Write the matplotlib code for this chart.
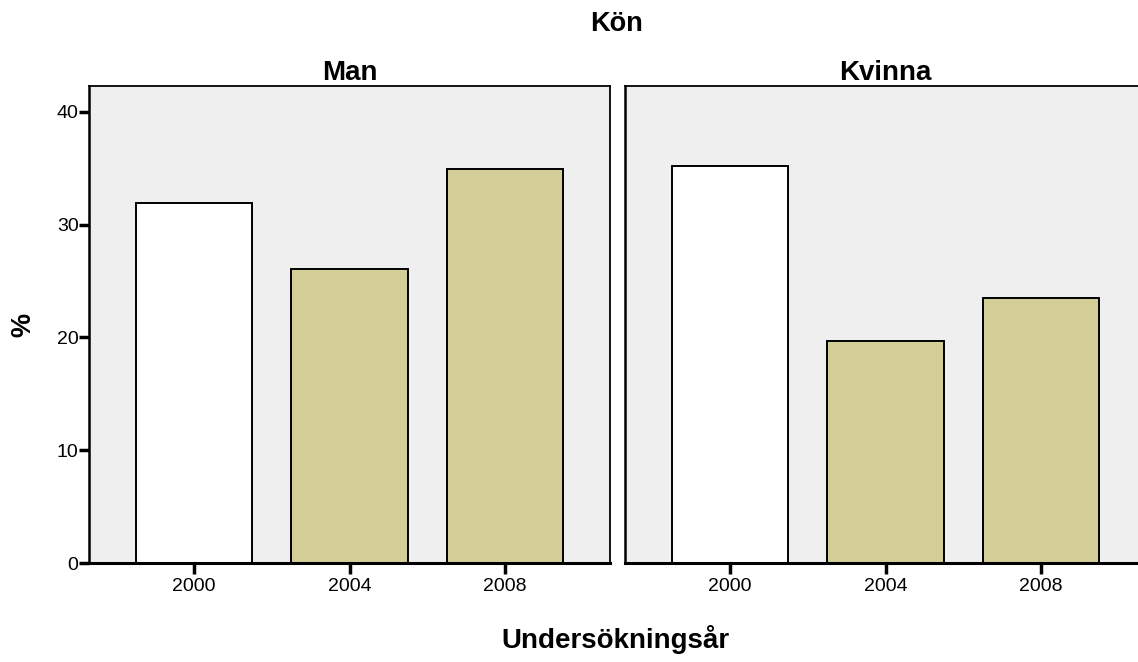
import numpy as np
import matplotlib.pyplot as plt

plt.rcParams['font.family'] = ['Liberation Sans', 'DejaVu Sans']

years = ['2000', '2004', '2008']
groups = ['Man', 'Kvinna']
man_pct = [31.9, 26.1, 34.9]
kvinna_pct = [35.2, 19.7, 23.5]
bar_colors = ['#FFFFFF', '#D3CE98', '#D3CE98']

W, H = 1138, 662
fig = plt.figure(figsize=(W / 100, H / 100), dpi=100)

ax_w = (610 - 89) / W
ax_b = 1 - 563 / H
ax_h = (563 - 86) / H
ax1 = fig.add_axes([89 / W, ax_b, ax_w, ax_h])
ax2 = fig.add_axes([625 / W, ax_b, ax_w, ax_h])

x = np.arange(len(years))
for ax, vals, name in [(ax1, man_pct, groups[0]), (ax2, kvinna_pct, groups[1])]:
    ax.set_facecolor('#EFEFEF')
    ax.bar(x, vals, width=0.75, color=bar_colors, edgecolor='black', linewidth=1.4, zorder=2)
    ax.set_xlim(-0.675, 2.675)
    ax.set_ylim(0, 42.3)
    ax.set_xticks(x)
    ax.set_xticklabels(years, fontsize=14)
    ax.tick_params(axis='x', length=8, width=2.5, pad=3)
    ax.set_title(name, fontsize=20, fontweight='bold', pad=3.6)
    for side in ['top', 'right']:
        ax.spines[side].set_linewidth(1.3)
    ax.spines['bottom'].set_linewidth(2.2)
    ax.spines['left'].set_linewidth(1.8)

ax1.set_yticks([0, 10, 20, 30, 40])
ax1.tick_params(axis='y', length=7, width=2.5, labelsize=14, pad=0.5)
ax2.tick_params(axis='y', left=False, labelleft=False)

fig.text(616 / W, 1 - 31 / H, 'Kön', ha='center', va='baseline', fontsize=19.5, fontweight='bold')
fig.text(615 / W, 1 - 648 / H, 'Undersökningsår', ha='center', va='baseline', fontsize=20, fontweight='bold')
fig.text(23 / W, 1 - 325 / H, '%', ha='center', va='center', fontsize=19.5, fontweight='bold', rotation=90)

fig.savefig('out.png', dpi=100)
